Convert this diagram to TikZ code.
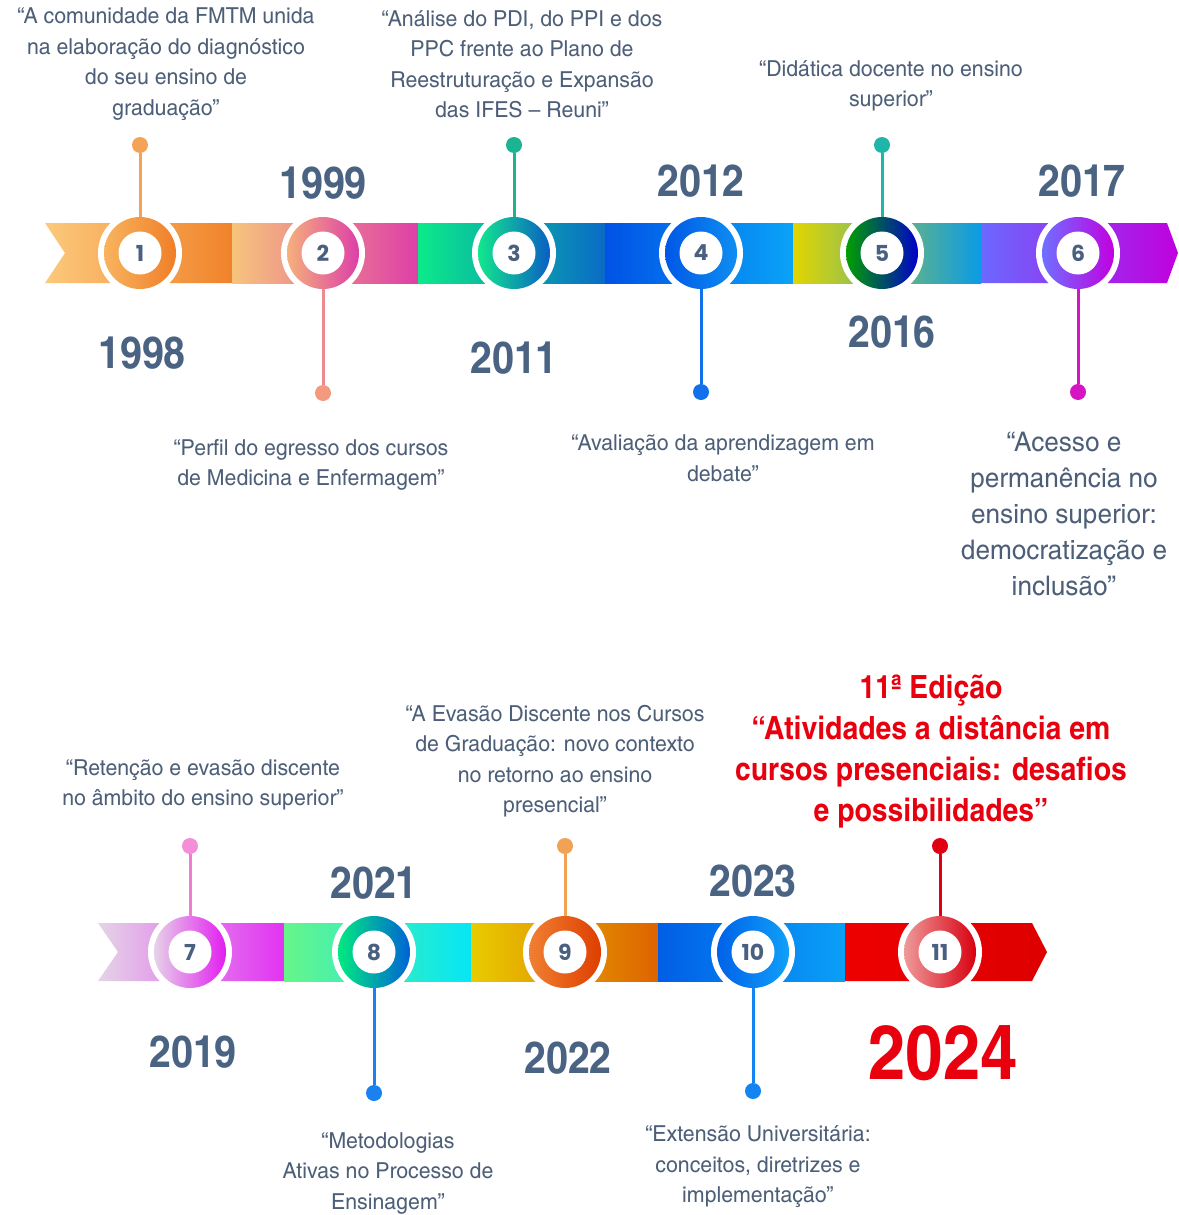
\documentclass[tikz,border=0pt]{standalone}
\usepackage{fontspec}
\setmainfont{texgyreheroscn}[Extension=.otf, UprightFont=*-regular, BoldFont=*-bold, UprightFeatures={FakeStretch=1.18}, BoldFeatures={FakeStretch=1.08}]
\newfontfamily\numfont{Poppins}
\definecolor{descc}{HTML}{4D5F78}
\definecolor{yearc}{HTML}{4A6383}
\definecolor{numc}{HTML}{4A6080}
\definecolor{redc}{HTML}{E8000F}
\begin{document}
\begin{tikzpicture}[x=1pt,y=-1pt,
  gap/.style={circle, fill=white, minimum size=84pt, inner sep=0pt},
  ring/.style={circle, minimum size=72pt, inner sep=0pt},
  num/.style={circle, fill=white, minimum size=43pt, inner sep=0pt, text=numc, font=\numfont\bfseries\fontsize{22}{22}\selectfont},
  dot/.style={circle, minimum size=16pt, inner sep=0pt},
  pin/.style={line width=3pt},
  year/.style={text=yearc, font=\bfseries\fontsize{44.5}{44.5}\selectfont},
  desc/.style={align=center, text=descc, font=\fontsize{22}{30.5}\selectfont}]
\useasboundingbox (0,0) rectangle (1178,1215);
\fill[white] (0,0) rectangle (1178,1215);

% ---------- row 1 band ----------
\shade[left color={rgb,255:red,252;green,201;blue,124}, right color={rgb,255:red,240;green,131;blue,42}]
  (45,223) -- (232,223) -- (232,283) -- (45,283) -- (65,253) -- cycle;
\shade[left color={rgb,255:red,247;green,196;blue,124}, right color={rgb,255:red,222;green,63;blue,166}]
  (232,223) rectangle (418,283);
\shade[left color={rgb,255:red,11;green,234;blue,138}, right color={rgb,255:red,10;green,107;blue,198}]
  (418,223) rectangle (605,283);
\shade[left color={rgb,255:red,0;green,82;blue,230}, right color={rgb,255:red,10;green,163;blue,247}]
  (605,223) rectangle (793,283);
\shade[left color={rgb,255:red,226;green,213;blue,0}, middle color={rgb,255:red,34;green,224;blue,0}, right color={rgb,255:red,10;green,155;blue,230}]
  (793,223) rectangle (981,283);
\shade[left color={rgb,255:red,107;green,104;blue,255}, right color={rgb,255:red,192;green,0;blue,222}]
  (981,223) -- (1167,223) -- (1178,253) -- (1167,283) -- (981,283) -- cycle;

% ---------- row 2 band ----------
\shade[left color={rgb,255:red,228;green,212;blue,230}, right color={rgb,255:red,226;green,51;blue,242}]
  (98,923) -- (284,923) -- (284,981) -- (98,981) -- (118,952) -- cycle;
\shade[left color={rgb,255:red,102;green,245;blue,138}, right color={rgb,255:red,5;green,230;blue,245}]
  (284,923) rectangle (471,981);
\shade[left color={rgb,255:red,232;green,204;blue,0}, right color={rgb,255:red,222;green,99;blue,0}]
  (471,923) rectangle (658,981);
\shade[left color={rgb,255:red,0;green,94;blue,230}, right color={rgb,255:red,10;green,160;blue,247}]
  (658,923) rectangle (845,981);
\shade[left color={rgb,255:red,238;green,0;blue,0}, right color={rgb,255:red,221;green,0;blue,0}]
  (845,923) -- (1032,923) -- (1047,952) -- (1032,981) -- (845,981) -- cycle;

% ---------- white gaps ----------
\foreach \x/\y [count=\i] in {140/253,323/253,514/253,701/253,882/253,1078/253,190/952,374/952,565/952,753/952,940/952}
  \node[gap] (g\i) at (\x,\y) {};

% ---------- rings ----------
\node[ring, left color={rgb,255:red,248;green,180;blue,94}, right color={rgb,255:red,240;green,126;blue,40}] (r1) at (140,253) {};
\node[ring, left color={rgb,255:red,245;green,176;blue,124}, right color={rgb,255:red,221;green,63;blue,168}] (r2) at (323,253) {};
\node[ring, left color={rgb,255:red,18;green,232;blue,142}, right color={rgb,255:red,10;green,94;blue,196}] (r3) at (514,253) {};
\node[ring, left color={rgb,255:red,0;green,88;blue,230}, right color={rgb,255:red,15;green,142;blue,242}] (r4) at (701,253) {};
\node[ring, left color={rgb,255:red,0;green,160;blue,0}, right color={rgb,255:red,0;green,0;blue,200}] (r5) at (882,253) {};
\node[ring, left color={rgb,255:red,111;green,112;blue,255}, right color={rgb,255:red,194;green,0;blue,224}] (r6) at (1078,253) {};
\node[ring, left color={rgb,255:red,230;green,210;blue,232}, right color={rgb,255:red,226;green,30;blue,240}] (r7) at (190,952) {};
\node[ring, left color={rgb,255:red,0;green,234;blue,128}, right color={rgb,255:red,0;green,98;blue,214}] (r8) at (374,952) {};
\node[ring, left color={rgb,255:red,240;green,128;blue,50}, right color={rgb,255:red,222;green,62;blue,0}] (r9) at (565,952) {};
\node[ring, left color={rgb,255:red,0;green,98;blue,232}, right color={rgb,255:red,16;green,160;blue,248}] (r10) at (753,952) {};
\node[ring, left color={rgb,255:red,238;green,154;blue,154}, right color={rgb,255:red,216;green,0;blue,16}] (r11) at (940,952) {};

% ---------- numbers ----------
\foreach \x/\y [count=\i] in {140/253,323/253,514/253,701/253,882/253,1078/253,190/952,374/952,565/952,753/952,940/952}
  \node[num] (n\i) at (\x,\y) {\i};

% ---------- pins ----------
\node[dot, fill={rgb,255:red,243;green,162;blue,86}] (d1) at (140,145) {};
\node[dot, fill={rgb,255:red,243;green,154;blue,126}] (d2) at (323,393) {};
\node[dot, fill={rgb,255:red,27;green,179;blue,145}] (d3) at (514,145) {};
\node[dot, fill={rgb,255:red,17;green,112;blue,234}] (d4) at (701,392) {};
\node[dot, fill={rgb,255:red,31;green,181;blue,168}] (d5) at (882,145) {};
\node[dot, fill={rgb,255:red,215;green,20;blue,196}] (d6) at (1078,392) {};
\node[dot, fill={rgb,255:red,245;green,142;blue,216}] (d7) at (190,846) {};
\node[dot, fill={rgb,255:red,26;green,130;blue,240}] (d8) at (374,1093) {};
\node[dot, fill={rgb,255:red,240;green,162;blue,85}] (d9) at (565,846) {};
\node[dot, fill={rgb,255:red,20;green,132;blue,242}] (d10) at (753,1091) {};
\node[dot, fill={rgb,255:red,224;green,0;blue,18}] (d11) at (940,846) {};

\draw[pin, color={rgb,255:red,243;green,162;blue,86}] (d1) -- (r1);
\draw[pin, color={rgb,255:red,238;green,138;blue,142}] (r2) -- (d2);
\draw[pin, color={rgb,255:red,27;green,179;blue,145}] (d3) -- (r3);
\draw[pin, color={rgb,255:red,17;green,112;blue,234}] (r4) -- (d4);
\draw[pin, color={rgb,255:red,31;green,181;blue,168}] (d5) -- (r5);
\draw[pin, color={rgb,255:red,215;green,20;blue,196}] (r6) -- (d6);
\draw[pin, color={rgb,255:red,240;green,124;blue,212}] (d7) -- (r7);
\draw[pin, color={rgb,255:red,26;green,130;blue,240}] (r8) -- (d8);
\draw[pin, color={rgb,255:red,240;green,162;blue,85}] (d9) -- (r9);
\draw[pin, color={rgb,255:red,20;green,132;blue,242}] (r10) -- (d10);
\draw[pin, color={rgb,255:red,224;green,0;blue,18}] (d11) -- (r11);

% ---------- years ----------
\node[year] (y1) at (142,353) {1998};
\node[year] (y2) at (323,183) {1999};
\node[year] (y3) at (514,358) {2011};
\node[year] (y4) at (701,181) {2012};
\node[year] (y5) at (892,332) {2016};
\node[year] (y6) at (1082,181) {2017};
\node[year] (y7) at (193,1052) {2019};
\node[year] (y8) at (374,883) {2021};
\node[year] (y9) at (568,1058) {2022};
\node[year] (y10) at (753,881) {2023};
\node[text=redc, font=\bfseries\fontsize{76}{76}\selectfont] (y11) at (943,1053) {2024};

% ---------- descriptions ----------
\node[desc] (t1) at (166,64) {“A comunidade da FMTM unida\\na elaboração do diagnóstico\\do seu ensino de\\graduação”};
\node[desc] (t3) at (522,64) {“Análise do PDI, do PPI e dos\\PPC frente ao Plano de\\Reestruturação e Expansão\\das IFES – Reuni”};
\node[desc] (t5) at (891,86) {“Didática docente no ensino\\superior”};
\node[desc] (t2) at (311,465) {“Perfil do egresso dos cursos\\de Medicina e Enfermagem”};
\node[desc] (t4) at (723,458) {“Avaliação da aprendizagem em\\debate”};
\node[desc, font=\fontsize{27}{36}\selectfont] (t6) at (1064,514) {“Acesso e\\permanência no\\ensino superior:\\democratização e\\inclusão”};
\node[desc] (t7) at (203,785) {“Retenção e evasão discente\\no âmbito do ensino superior”};
\node[desc] (t9) at (555,761) {“A Evasão Discente nos Cursos\\de Graduação: novo contexto\\no retorno ao ensino\\presencial”};
\node[align=center, text=redc, font=\bfseries\fontsize{32}{41}\selectfont] (t11) at (931,751) {11ª Edição\\“Atividades a distância em\\cursos presenciais: desafios\\e possibilidades”};
\node[desc] (t8) at (388,1173) {“Metodologias\\Ativas no Processo de\\Ensinagem”};
\node[desc] (t10) at (758,1167) {“Extensão Universitária:\\conceitos, diretrizes e\\implementação”};
\end{tikzpicture}
\end{document}
